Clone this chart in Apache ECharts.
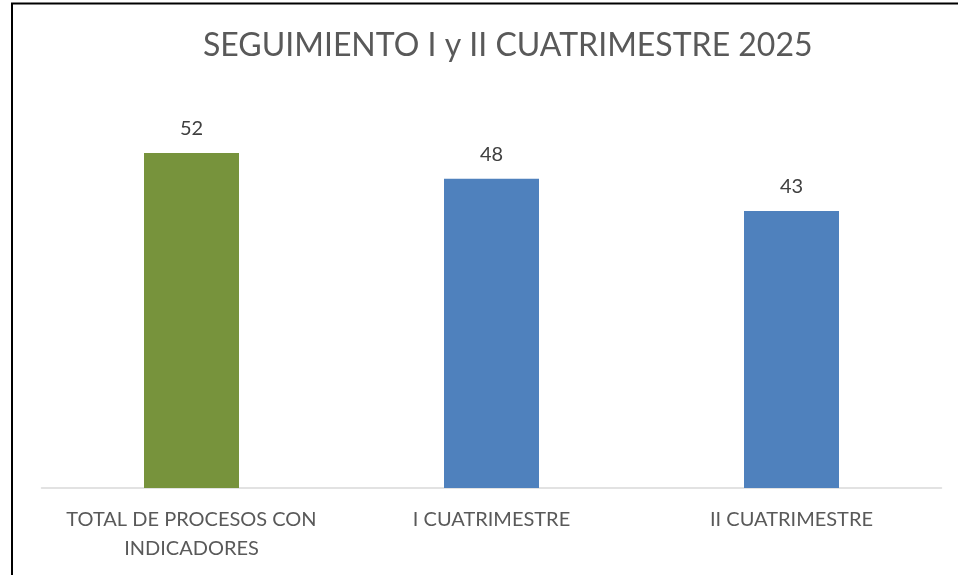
<!DOCTYPE html>
<html>
<head>
<meta charset="utf-8">
<script src="https://cdn.jsdelivr.net/npm/echarts@6/dist/echarts.min.js"></script>
<style>
html,body{margin:0;padding:0;background:#fff;}
#chart{width:958px;height:575px;}
</style>
</head>
<body>
<div id="chart"></div>
<script>
const titleText = 'SEGUIMIENTO I y II CUATRIMESTRE 2025';
const categories = ['TOTAL DE PROCESOS CON\nINDICADORES', 'I CUATRIMESTRE', 'II CUATRIMESTRE'];
const values = [52, 48, 43];
const barColors = ['#77933C', '#4F81BD', '#4F81BD'];

const chart = echarts.init(document.getElementById('chart'), null, {renderer: 'canvas'});
chart.setOption({
  animation: false,
  backgroundColor: '#fff',
  title: {
    text: titleText,
    left: 198,
    top: 25,
    textStyle: {fontFamily: 'Lato', fontSize: 32, fontWeight: 'normal', color: '#595959'}
  },
  graphic: [{
    type: 'rect',
    shape: {x: 12, y: 3.5, width: 1000, height: 700},
    style: {fill: 'none', stroke: '#000', lineWidth: 2},
    z: 100
  }],
  grid: {left: 41.5, right: 16.5, top: 101.5, bottom: 87, containLabel: false},
  xAxis: {
    type: 'category',
    data: categories,
    axisLine: {lineStyle: {color: '#d9d9d9', width: 1.5}},
    axisTick: {show: false},
    axisLabel: {fontFamily: 'Lato', fontSize: 20, color: '#595959', margin: 17, lineHeight: 29, interval: 0}
  },
  yAxis: {
    type: 'value', min: 0, max: 60, interval: 10,
    show: false, splitLine: {show: false}
  },
  series: [{
    type: 'bar',
    data: values.map((v, i) => ({value: v, itemStyle: {color: barColors[i]}})),
    barWidth: 95,
    label: {show: true, position: 'top', distance: 14, fontFamily: 'Lato', fontSize: 20, color: '#404040'}
  }]
});
</script>
</body>
</html>
